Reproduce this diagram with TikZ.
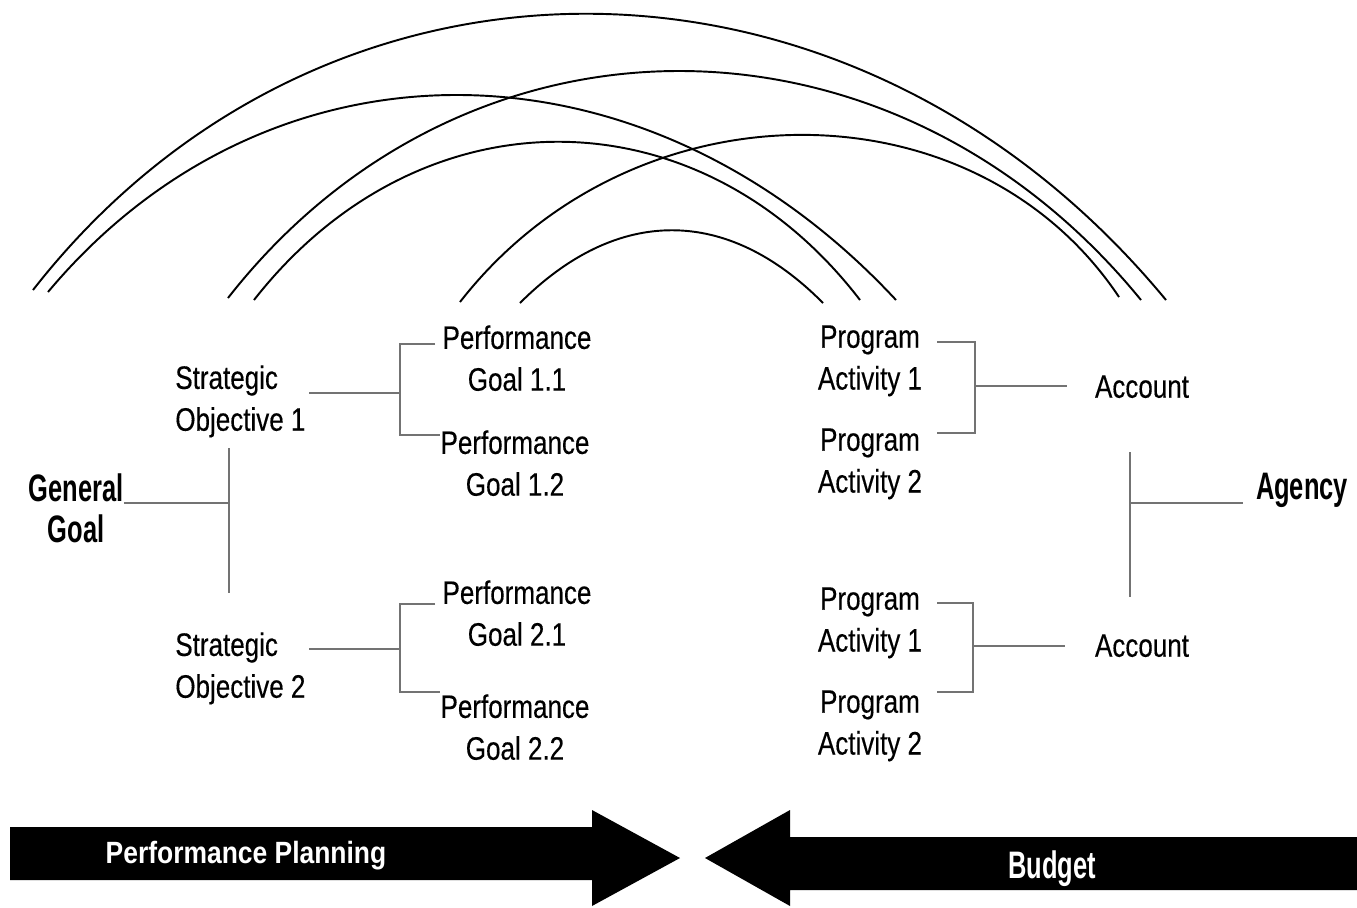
\documentclass[tikz,border=0pt]{standalone}
\usepackage{fontspec}
\usepackage{tikz}
\setmainfont{Liberation Sans}[FakeStretch=0.8, FakeBold=0.3]
\newfontfamily\headfont{Liberation Sans}[FakeStretch=0.665]
\newfontfamily\planfont{Liberation Sans}[FakeStretch=0.86]
\tikzstyle{bag} = [align=center, inner sep=0pt, anchor=north, font=\fontsize{18.5}{23.8}\selectfont]
\tikzstyle{head} = [bag, font=\headfont\bfseries\fontsize{21.8}{23.8}\selectfont]
\tikzstyle{link} = [draw=black!55, line width=1.3pt]
\tikzstyle{arc} = [draw=black, line width=1.1pt]

\begin{document}
\begin{tikzpicture}[x=0.02cm, y=-0.02cm]
  \path[use as bounding box, fill=white] (0,0) rectangle (1357,907);

  % performance planning side
  \node [head] (gg) at (76,473) {General\\Goal};
  \node [bag,align=left,anchor=north west] (so1) at (175,365) {Strategic\\Objective 1};
  \node [bag,align=left,anchor=north west] (so2) at (175,632) {Strategic\\Objective 2};
  \node [bag] (pg11) at (517,325) {Performance\\Goal 1.1};
  \node [bag] (pg12) at (515,430) {Performance\\Goal 1.2};
  \node [bag] (pg21) at (517,580) {Performance\\Goal 2.1};
  \node [bag] (pg22) at (515,694) {Performance\\Goal 2.2};

  % budget side
  \node [bag] (pa11) at (870,325) {Program\\Activity 1};
  \node [bag] (pa12) at (870,428) {Program\\Activity 2};
  \node [bag] (pa21) at (870,587) {Program\\Activity 1};
  \node [bag] (pa22) at (870,690) {Program\\Activity 2};
  \node [bag] (acc1) at (1142,375) {Account};
  \node [bag] (acc2) at (1142,634) {Account};
  \node [head] (agency) at (1302,473) {Agency};

  % brackets
  \coordinate (gbar) at (229,503);
  \coordinate (gtop) at (229,448);
  \coordinate (gbot) at (229,593);
  \draw[link] (gg.east |- gbar) -- (gbar);
  \draw[link] (gtop) -- (gbot);

  \coordinate (j1) at (400,393);
  \coordinate (s11) at (435,344);
  \coordinate (s12) at (440,435);
  \draw[link, shorten <=2pt] (so1.east |- j1) -- (j1);
  \draw[link] (s11) -| (j1) |- (s12);

  \coordinate (j2) at (400,649);
  \coordinate (s21) at (435,604);
  \coordinate (s22) at (440,692);
  \draw[link, shorten <=2pt] (so2.east |- j2) -- (j2);
  \draw[link] (s21) -| (j2) |- (s22);

  \coordinate (k1) at (975,386);
  \coordinate (t11) at (937,342);
  \coordinate (t12) at (937,433);
  \coordinate (a1) at (1067,386);
  \draw[link] (t11) -| (k1) |- (t12);
  \draw[link] (k1) -- (a1);

  \coordinate (k2) at (973,646);
  \coordinate (t21) at (937,603);
  \coordinate (t22) at (937,692);
  \coordinate (a2) at (1065,646);
  \draw[link] (t21) -| (k2) |- (t22);
  \draw[link] (k2) -- (a2);

  \coordinate (abar) at (1130,503);
  \coordinate (atop) at (1130,452);
  \coordinate (abot) at (1130,597);
  \coordinate (ag) at (1243,503);
  \draw[link] (atop) -- (abot);
  \draw[link] (abar) -- (ag);

  % arcs
  \coordinate (l1) at (33,290);  \coordinate (r1) at (1166,300);
  \coordinate (l2) at (48,292);  \coordinate (r2) at (896,300);
  \coordinate (l3) at (228,298); \coordinate (r3) at (1141,300);
  \coordinate (l4) at (254,300); \coordinate (r4) at (860,300);
  \coordinate (l5) at (460,302); \coordinate (r5) at (1119,297);
  \coordinate (l6) at (520,303); \coordinate (r6) at (823,303);
  \draw[arc] (l1) .. controls (322,-80) and (852,-80) .. (r1);
  \draw[arc] (l2) .. controls (269,28) and (643,28) .. (r2);
  \draw[arc] (l3) .. controls (465,-5) and (892,-5) .. (r3);
  \draw[arc] (l4) .. controls (419,89) and (698,89) .. (r4);
  \draw[arc] (l5) .. controls (633,80) and (974,80) .. (r5);
  \draw[arc] (l6) .. controls (617,206) and (727,206) .. (r6);

  % big arrows
  \fill (10,827) -- (592,827) -- (592,810) -- (680,858) -- (592,906) -- (592,880) -- (10,880) -- cycle;
  \fill (1357,837) -- (790,837) -- (790,810) -- (705,858) -- (790,906) -- (790,890) -- (1357,890) -- cycle;
  \node [bag, text=white, font=\planfont\bfseries\fontsize{17.5}{20}\selectfont] (plan) at (246,841) {Performance Planning};
  \node [head, text=white] (budget) at (1052,850) {Budget};
\end{tikzpicture}
\end{document}
